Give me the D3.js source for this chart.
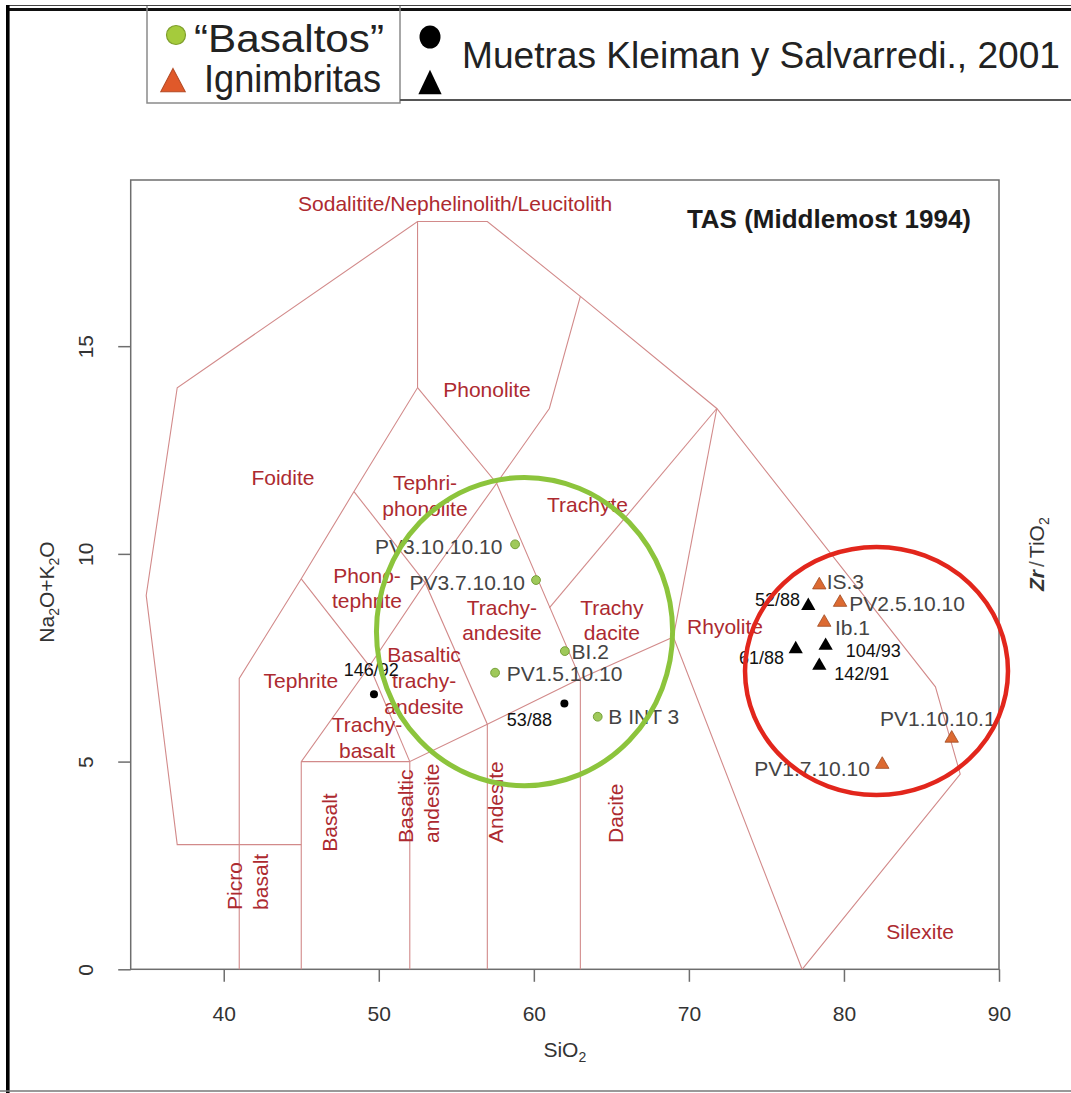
<!DOCTYPE html>
<html>
<head>
<meta charset="utf-8">
<script src="https://cdn.jsdelivr.net/npm/d3@7"></script>
<style>
  html, body { margin: 0; padding: 0; background: #fff; }
  svg { display: block; }
  text { font-family: "Liberation Sans", Arial, Helvetica, sans-serif; }
</style>
</head>
<body>
<svg id="chart" width="1071" height="1093"></svg>
<script>
// TAS classification diagram (Middlemost 1994): SiO2 vs Na2O+K2O

// ---- axes ----
const xTicks = [40, 50, 60, 70, 80, 90];
const yTicks = [0, 5, 10, 15];
const xExtent = [34, 90];
const yExtent = [0, 19];

// ---- field boundaries (SiO2, Na2O+K2O) ----
const outerBoundary = [[45,3],[37,3],[35,9],[37,14],[52.5,18],[57,18],[63,16.2],[71.8,13.5],[85.9,6.8],[87.5,4.7],[77.3,0]];
const foiditeBoundary = [[41,0],[41,7],[45,9.4],[48.4,11.5],[52.5,14],[52.5,18]];
const tephriteBoundary = [[45,0],[45,5],[49.4,7.3],[45,9.4]];
const basaltTop = [[45,5],[52,5]];
const trachybasaltRight = [[49.4,7.3],[52,5]];
const subalkalineTop = [[52,0],[52,5],[57,5.9],[63,7],[69,8],[77.3,0]];
const andesiteBoundary = [[57,0],[57,5.9],[53,9.3],[49.4,7.3]];
const tephriphonoliteBoundary = [[53,9.3],[57.6,11.7],[52.5,14]];
const phonotephriteTop = [[48.4,11.5],[53,9.3]];
const daciteBoundary = [[63,0],[63,7],[57.6,11.7],[61,13.5],[63,16.2]];
const trachyteBoundary = [[61,8.7],[71.8,13.5]];
const rhyoliteBoundary = [[69,8],[71.8,13.5]];
const tasBoundaries = [outerBoundary, foiditeBoundary, tephriteBoundary, basaltTop, trachybasaltRight,
  subalkalineTop, andesiteBoundary, tephriphonoliteBoundary, phonotephriteTop, daciteBoundary,
  trachyteBoundary, rhyoliteBoundary];

// ---- field names ----
const fieldNames = [
  ["Sodalitite/Nephelinolith/Leucitolith"], ["Foidite"], ["Phonolite"], ["Tephri-", "phonolite"],
  ["Trachyte"], ["Phono-", "tephrite"], ["Trachy-", "andesite"], ["Trachy", "dacite"],
  ["Basaltic", "trachy-", "andesite"], ["Tephrite"], ["Trachy-", "basalt"], ["Rhyolite"], ["Silexite"]
];
const fieldNameSiO2 = [54.92, 43.82, 56.98, 52.98, 63.46, 49.24, 57.94, 65.03, 52.92, 44.98, 49.24, 72.33, 84.91];
const fieldNameAlk  = [18.44, 11.85, 13.95, 11.41, 11.18, 9.18, 8.41, 8.41, 6.95, 6.96, 5.58, 8.26, 0.9];

const verticalFieldNames = [["Picro", "basalt"], ["Basalt"], ["Basaltic", "andesite"], ["Andesite"], ["Dacite"]];
const verticalFieldSiO2 = [41.51, 46.79, 52.56, 57.5, 65.24];
const verticalFieldAlk  = [1.43, 2.83, 3.04, 3.04, 3.04];

// ---- samples ----
const basaltosIds  = ["PV3.10.10.10", "PV3.7.10.10", "BI.2", "PV1.5.10.10", "B INT 3"];
const basaltosSiO2 = [58.79, 60.14, 62.0, 57.5, 64.12];
const basaltosAlk  = [10.23, 9.37, 7.66, 7.14, 6.08];

const ignimbritasIds  = ["IS.3", "PV2.5.10.10", "Ib.1", "PV1.10.10.1", "PV1.7.10.10"];
const ignimbritasSiO2 = [78.41, 79.75, 78.73, 86.95, 82.47];
const ignimbritasAlk  = [9.25, 8.83, 8.35, 5.56, 4.93];

const kleimanCircleIds  = ["146/92", "53/88"];
const kleimanCircleSiO2 = [49.69, 61.97];
const kleimanCircleAlk  = [6.62, 6.40];

const kleimanTriangleIds  = ["52/88", "61/88", "104/93", "142/91"];
const kleimanTriangleSiO2 = [77.70, 76.89, 78.82, 78.41];
const kleimanTriangleAlk  = [8.75, 7.71, 7.79, 7.31];

// ---- group outlines (centre SiO2, centre alkalis, half-width, half-height) ----
const basaltosOutline    = [59.4, 8.13, 9.55, 3.71];
const ignimbritasOutline = [82.1, 7.18, 8.48, 2.985];

// ---- label placement around each sample symbol (pixels) ----
const labelPlacement = {
  "PV3.10.10.10": ["end", -12.7, 2],
  "PV3.7.10.10":  ["end", -11, 2],
  "BI.2":         ["start", 6.7, 0],
  "PV1.5.10.10":  ["start", 11.7, 0.6],
  "B INT 3":      ["start", 10.6, 0],
  "146/92":       ["middle", -2.7, -24],
  "53/88":        ["middle", -35, 17],
  "IS.3":         ["start", 7.4, -4],
  "PV2.5.10.10":  ["start", 9.3, 1],
  "Ib.1":         ["start", 10.7, 5],
  "52/88":        ["end", -8.3, -6],
  "61/88":        ["end", -11.7, 9],
  "104/93":       ["start", 20, 5],
  "142/91":       ["start", 15, 8],
  "PV1.10.10.1":  ["start", -71.7, -20],
  "PV1.7.10.10":  ["end", -12.3, 4]
};

// ---- drawing ----
const svg = d3.select("#chart");
const W = 1071, H = 1093;
const plot = { left: 130.7, right: 999, top: 180, bottom: 969.3 };

const x = d3.scaleLinear().domain(xExtent).range([plot.left, plot.right]);
const y = d3.scaleLinear().domain(yExtent).range([plot.bottom, plot.top]);

const fieldLine = "#d28a8a";
const fieldText = "#ad2a30";
const axisGrey = "#6e6e6e";

svg.append("rect").attr("width", W).attr("height", H).attr("fill", "#fff");

// page frame
svg.append("line").attr("x1", 6).attr("x2", W).attr("y1", 5.5).attr("y2", 5.5)
  .attr("stroke", "#444").attr("stroke-width", 1);
svg.append("line").attr("x1", 6).attr("x2", W).attr("y1", 9.6).attr("y2", 9.6)
  .attr("stroke", "#111").attr("stroke-width", 3);
svg.append("line").attr("x1", 7.8).attr("x2", 7.8).attr("y1", 5).attr("y2", H)
  .attr("stroke", "#000").attr("stroke-width", 3.6);
svg.append("line").attr("x1", 0).attr("x2", W).attr("y1", 1091).attr("y2", 1091)
  .attr("stroke", "#777").attr("stroke-width", 1.5);

// legend boxes
const legend = svg.append("g");
legend.append("path").attr("d", "M147,6 V103 H400 V6").attr("fill", "none")
  .attr("stroke", "#8a8a8a").attr("stroke-width", 1.5);
legend.append("path").attr("d", "M400,100 H1071").attr("fill", "none")
  .attr("stroke", "#555").attr("stroke-width", 1.8);

legend.append("circle").attr("cx", 176).attr("cy", 35).attr("r", 9.5)
  .attr("fill", "#a5cb3c").attr("stroke", "#7f9f2c").attr("stroke-width", 1.2);
legend.append("path").attr("d", d3.symbol(d3.symbolTriangle, 260)())
  .attr("transform", "translate(173,84) scale(1,1.1)")
  .attr("fill", "#e0592a").attr("stroke", "#b44a24").attr("stroke-width", 1);
legend.append("text").attr("x", 194).attr("y", 52).attr("font-size", 38)
  .attr("textLength", 190).attr("lengthAdjust", "spacingAndGlyphs")
  .attr("fill", "#222").text("\u201CBasaltos\u201D");
legend.append("text").attr("x", 204).attr("y", 92).attr("font-size", 38)
  .attr("textLength", 177).attr("lengthAdjust", "spacingAndGlyphs")
  .attr("fill", "#222").text("Ignimbritas");

legend.append("ellipse").attr("cx", 430).attr("cy", 37).attr("rx", 10.5).attr("ry", 11.5)
  .attr("fill", "#000");
legend.append("path").attr("d", d3.symbol(d3.symbolTriangle, 260)())
  .attr("transform", "translate(430,86) scale(0.95,1.15)")
  .attr("fill", "#000");
legend.append("text").attr("x", 462).attr("y", 68.3).attr("font-size", 37)
  .attr("textLength", 598).attr("lengthAdjust", "spacingAndGlyphs")
  .attr("fill", "#222").text("Muetras Kleiman y Salvarredi., 2001");

// plot frame
svg.append("rect").attr("x", plot.left).attr("y", plot.top)
  .attr("width", plot.right - plot.left).attr("height", plot.bottom - plot.top)
  .attr("fill", "none").attr("stroke", axisGrey).attr("stroke-width", 1.5);

// axes
const xAxis = svg.append("g").attr("transform", `translate(0,${plot.bottom})`)
  .call(d3.axisBottom(x).tickValues(xTicks).tickSize(12.5).tickSizeOuter(0));
xAxis.select(".domain").remove();
xAxis.selectAll(".tick line").attr("stroke", axisGrey).attr("stroke-width", 1.5);
xAxis.selectAll(".tick text").attr("y", 44).attr("dy", "0.35em")
  .attr("font-size", 21).attr("fill", "#333")
  .style("font-family", "'Liberation Sans', Arial, sans-serif");

const yAxis = svg.append("g").attr("transform", `translate(${plot.left},0)`)
  .call(d3.axisLeft(y).tickValues(yTicks).tickSize(12.5).tickSizeOuter(0));
yAxis.select(".domain").remove();
yAxis.selectAll(".tick line").attr("stroke", axisGrey).attr("stroke-width", 1.5);
yAxis.selectAll(".tick text")
  .attr("x", 0).attr("y", 0).attr("dy", null)
  .attr("text-anchor", "middle").attr("dominant-baseline", "central")
  .attr("transform", "translate(-45.7,0) rotate(-90)")
  .attr("font-size", 21).attr("fill", "#333")
  .style("font-family", "'Liberation Sans', Arial, sans-serif");

// axis titles
const xTitle = svg.append("text").attr("x", (plot.left + plot.right) / 2).attr("y", 1057)
  .attr("text-anchor", "middle").attr("font-size", 21).attr("fill", "#333");
xTitle.append("tspan").text("SiO");
xTitle.append("tspan").attr("font-size", 14).attr("dy", 5).text("2");

const yTitle = svg.append("text").attr("transform", "translate(54,592) rotate(-90)")
  .attr("text-anchor", "middle").attr("font-size", 21).attr("fill", "#333");
yTitle.append("tspan").text("Na");
yTitle.append("tspan").attr("font-size", 14).attr("dy", 5).text("2");
yTitle.append("tspan").attr("dy", -5).text("O+K");
yTitle.append("tspan").attr("font-size", 14).attr("dy", 5).text("2");
yTitle.append("tspan").attr("dy", -5).text("O");

const rTitle = svg.append("text").attr("transform", "translate(1044,591) rotate(-90)")
  .attr("text-anchor", "start").attr("font-size", 21).attr("fill", "#333");
rTitle.append("tspan").attr("font-style", "italic").attr("font-weight", "bold").text("Zr");
rTitle.append("tspan").attr("dx", 3).attr("fill", "#555").text("/");
rTitle.append("tspan").attr("dx", 3).text("TiO");
rTitle.append("tspan").attr("font-size", 14).attr("dy", 5).text("2");

// title
svg.append("text").attr("x", 971).attr("y", 228).attr("text-anchor", "end")
  .attr("font-size", 26).attr("font-weight", "bold").attr("fill", "#1b1b1b")
  .text("TAS (Middlemost 1994)");

// field boundaries
const line = d3.line().x(d => x(d[0])).y(d => y(d[1]));
svg.append("g").selectAll("path").data(tasBoundaries).join("path")
  .attr("d", line).attr("fill", "none").attr("stroke", fieldLine).attr("stroke-width", 1.1);

// field names
const fieldG = svg.append("g").attr("fill", fieldText).attr("font-size", 21);
fieldNames.forEach((lines, i) => {
  const n = lines.length, lh = 25.7;
  lines.forEach((t, j) => {
    fieldG.append("text").attr("x", x(fieldNameSiO2[i]))
      .attr("y", y(fieldNameAlk[i]) + (j - (n - 1) / 2) * lh)
      .attr("text-anchor", "middle").attr("dominant-baseline", "central").text(t);
  });
});
verticalFieldNames.forEach((lines, i) => {
  const n = lines.length, lh = 26;
  lines.forEach((t, j) => {
    fieldG.append("text")
      .attr("transform", `translate(${x(verticalFieldSiO2[i])},${y(verticalFieldAlk[i])}) rotate(-90)`)
      .attr("x", 0).attr("y", (j - (n - 1) / 2) * lh)
      .attr("text-anchor", "start").attr("dominant-baseline", "central").text(t);
  });
});

// clip for labels inside the plot
svg.append("clipPath").attr("id", "plotClip").append("rect")
  .attr("x", plot.left).attr("y", plot.top)
  .attr("width", plot.right - plot.left).attr("height", plot.bottom - plot.top);

function sampleLabels(ids, sio2, alk, colour, size) {
  const g = svg.append("g").attr("clip-path", "url(#plotClip)");
  ids.forEach((id, i) => {
    const p = labelPlacement[id];
    g.append("text").attr("x", x(sio2[i]) + p[1]).attr("y", y(alk[i]) + p[2])
      .attr("text-anchor", p[0]).attr("dominant-baseline", "central")
      .attr("font-size", size).attr("fill", colour).text(id);
  });
}

// sample symbols
const tri = d3.symbol(d3.symbolTriangle);
svg.append("g").selectAll("circle").data(basaltosIds).join("circle")
  .attr("cx", (d, i) => x(basaltosSiO2[i])).attr("cy", (d, i) => y(basaltosAlk[i]))
  .attr("r", 4.4).attr("fill", "#9fc95a").attr("stroke", "#76a03a").attr("stroke-width", 1);
svg.append("g").selectAll("circle").data(kleimanCircleIds).join("circle")
  .attr("cx", (d, i) => x(kleimanCircleSiO2[i])).attr("cy", (d, i) => y(kleimanCircleAlk[i]))
  .attr("r", 4).attr("fill", "#000");
svg.append("g").selectAll("path").data(ignimbritasIds).join("path")
  .attr("d", tri.size(78)())
  .attr("transform", (d, i) => `translate(${x(ignimbritasSiO2[i])},${y(ignimbritasAlk[i])})`)
  .attr("fill", "#dc6a32").attr("stroke", "#a04a22").attr("stroke-width", 0.8);
svg.append("g").selectAll("path").data(kleimanTriangleIds).join("path")
  .attr("d", tri.size(88)())
  .attr("transform", (d, i) => `translate(${x(kleimanTriangleSiO2[i])},${y(kleimanTriangleAlk[i])})`)
  .attr("fill", "#000");

sampleLabels(basaltosIds, basaltosSiO2, basaltosAlk, "#444", 21);
sampleLabels(ignimbritasIds, ignimbritasSiO2, ignimbritasAlk, "#444", 21);
sampleLabels(kleimanCircleIds, kleimanCircleSiO2, kleimanCircleAlk, "#111", 18);
sampleLabels(kleimanTriangleIds, kleimanTriangleSiO2, kleimanTriangleAlk, "#111", 18);

// group outlines
function outline(o, colour, width) {
  const cx = x(o[0]), cy = y(o[1]);
  svg.append("ellipse").attr("cx", cx).attr("cy", cy)
    .attr("rx", x(o[0] + o[2]) - cx).attr("ry", cy - y(o[1] + o[3]))
    .attr("fill", "none").attr("stroke", colour).attr("stroke-width", width);
}
outline(basaltosOutline, "#8cc43c", 5);
outline(ignimbritasOutline, "#e2261c", 4.5);
</script>
</body>
</html>
